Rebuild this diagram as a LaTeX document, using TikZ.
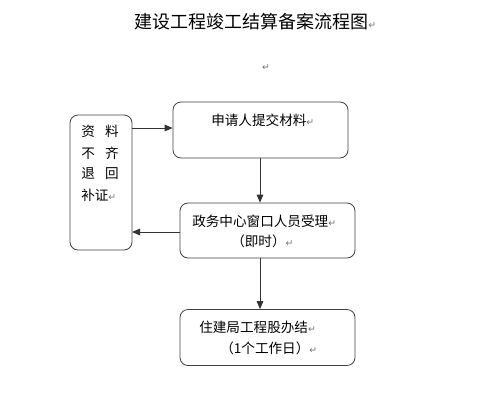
\documentclass[tikz,border=0pt]{standalone}
\usepackage{fontspec}
\usetikzlibrary{arrows.meta}
\newfontfamily\cjk{Noto Sans CJK SC}
\newfontfamily\dejavu{DejaVu Sans}
\newcommand{\retmark}{{\dejavu\fontsize{7}{7}\selectfont\textcolor{black!55}{↵}}}
\begin{document}
\begin{tikzpicture}[x=0.75pt,y=-0.75pt,
  box/.style={draw=black!75,line width=0.6pt,rounded corners=6pt},
  lbl/.style={inner sep=0pt,anchor=west,font=\cjk\fontsize{10.2}{12}\selectfont},
  conn/.style={draw=black!80,line width=0.6pt,-{Triangle[length=6pt,width=5pt]}}]
\useasboundingbox (0,0) rectangle (491,400);
% title
\node[inner sep=0pt,anchor=west,font=\cjk\fontsize{13.5}{15}\selectfont] (title) at (134,22) {建设工程竣工结算备案流程图\retmark};
\node[inner sep=0pt] (blank) at (266,68) {\retmark};
% boxes
\draw[box] (70,115) rectangle (132,250) coordinate (lbr);
\coordinate (ltr) at (132,128);
\coordinate (lmr) at (132,232);
\node[box,minimum width=175*0.75pt,minimum height=56*0.75pt,inner sep=0pt] (b1) at (260.5,130) {};
\node[box,minimum width=175*0.75pt,minimum height=55*0.75pt,inner sep=0pt] (b2) at (267.5,230.5) {};
\node[box,minimum width=175*0.75pt,minimum height=56*0.75pt,inner sep=0pt] (b3) at (267.5,337.5) {};
% texts
\node[lbl] (t1) at (211,120) {申请人提交材料\retmark};
\node[lbl] (t2a) at (192,221) {政务中心窗口人员受理\retmark};
\node[lbl] (t2b) at (231,241) {（即时）\retmark};
\node[lbl] (t3a) at (199,327) {住建局工程股办结\retmark};
\node[lbl] (t3b) at (220,348) {（1个工作日）\retmark};
\node[lbl] (l1) at (81,131) {资\hspace{0.75em}料};
\node[lbl] (l2) at (81,153) {不\hspace{0.75em}齐};
\node[lbl] (l3) at (81,174) {退\hspace{0.75em}回};
\node[lbl] (l4) at (81,195) {补证\retmark};
% connectors
\draw[conn] (ltr) -- (b1.west |- ltr);
\draw[conn] (b1.south -| 260,0) -- (b2.north -| 260,0);
\draw[conn] (b2.west |- lmr) -- (lmr);
\draw[conn] (b2.south -| 260,0) -- (b3.north -| 260,0);
\end{tikzpicture}
\end{document}
